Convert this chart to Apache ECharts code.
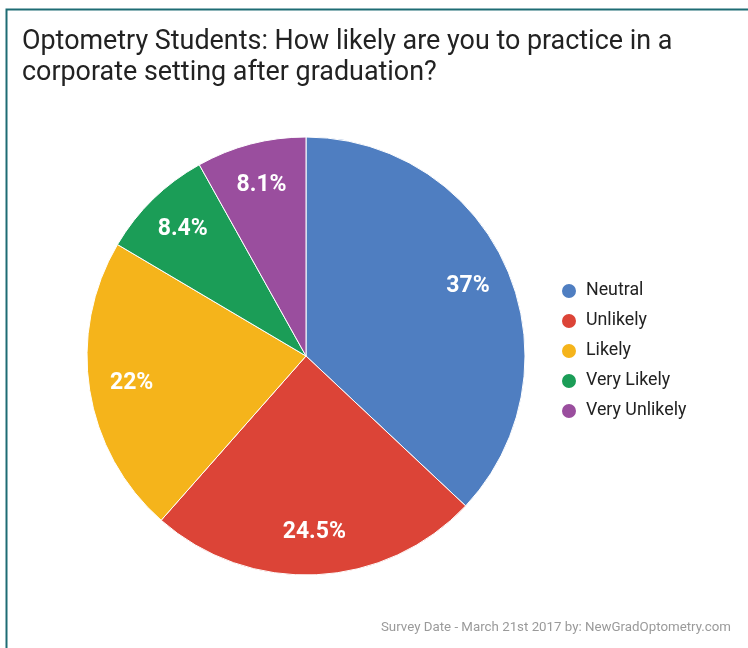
<!DOCTYPE html>
<html>
<head>
<meta charset="utf-8">
<script src="https://cdn.jsdelivr.net/npm/echarts@6/dist/echarts.min.js"></script>
<style>
html,body{margin:0;padding:0;background:#fff;}
#c{width:748px;height:648px;}
</style>
</head>
<body>
<div id="c"></div>
<script>
const categories = ['Neutral', 'Unlikely', 'Likely', 'Very Likely', 'Very Unlikely'];
const values = [37, 24.5, 22, 8.4, 8.1];
const colors = ['#4f7ec1', '#dc4437', '#f5b41b', '#1b9d57', '#9a4e9e'];

const titleText = 'Optometry Students: How likely are you to practice in a\ncorporate setting after graduation?';
const footerText = 'Survey Date - March 21st 2017 by: NewGradOptometry.com';

const data = categories.map((name, i) => ({ name, value: values[i], itemStyle: { color: colors[i] } }));

const chart = echarts.init(document.getElementById('c'), null, { renderer: 'canvas' });
chart.setOption({
  animation: false,
  backgroundColor: '#fff',
  title: [{
    text: titleText,
    left: 17,
    top: 22,
    textStyle: { fontFamily: 'Roboto', fontSize: 26.9, fontWeight: 'normal', color: '#222', lineHeight: 31 }
  }, {
    text: footerText,
    right: 12,
    top: 616,
    textStyle: { fontFamily: 'Roboto', fontSize: 13.3, fontWeight: 'normal', color: '#9a9a9a' }
  }],
  legend: {
    orient: 'vertical',
    left: 560,
    top: 282,
    padding: 0,
    icon: 'circle',
    itemWidth: 16,
    itemHeight: 16,
    itemGap: 12,
    data: categories,
    textStyle: { fontFamily: 'Roboto', fontSize: 17.8, color: '#222', padding: [0, 0, 0, 4] }
  },
  graphic: [{
    type: 'polyline',
    shape: { points: [[6.5, 648], [6.5, 9.5], [748, 9.5]] },
    style: { stroke: '#1e6c74', lineWidth: 2, fill: null },
    silent: true
  }],
  series: [{
    type: 'pie',
    center: [306, 356],
    radius: [0, 219],
    startAngle: 90,
    clockwise: true,
    avoidLabelOverlap: false,
    data: data,
    label: { show: false },
    labelLine: { show: false },
    itemStyle: { borderColor: '#fff', borderWidth: 1 },
    emphasis: { disabled: true }
  }, {
    type: 'pie',
    center: [306, 356],
    radius: [128, 219],
    startAngle: 90,
    clockwise: true,
    avoidLabelOverlap: false,
    silent: true,
    data: categories.map((name, i) => ({ name, value: values[i] })),
    itemStyle: { color: 'rgba(0,0,0,0)', borderWidth: 0 },
    label: {
      show: true,
      position: 'inside',
      formatter: p => p.value + '%',
      fontFamily: 'Roboto',
      fontSize: 23,
      fontWeight: 'bold',
      color: '#fff'
    },
    labelLine: { show: false },
    emphasis: { disabled: true }
  }]
});
</script>
</body>
</html>
